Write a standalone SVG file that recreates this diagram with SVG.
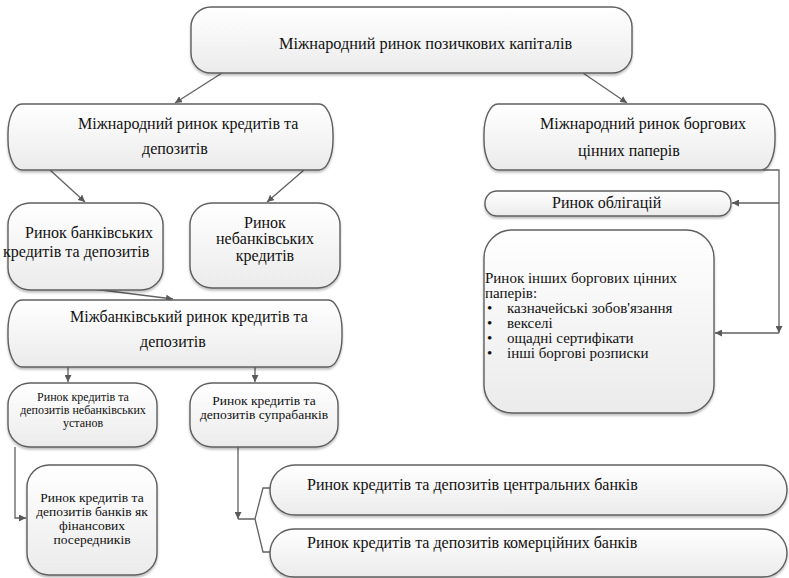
<svg xmlns="http://www.w3.org/2000/svg" width="789" height="578" viewBox="0 0 789 578">
<defs>
<linearGradient id="g" x1="0" y1="0" x2="0" y2="1">
<stop offset="0" stop-color="#ffffff"/>
<stop offset="1" stop-color="#ebebeb"/>
</linearGradient>
<filter id="sh" x="-5%" y="-5%" width="110%" height="120%">
<feDropShadow dx="0" dy="2" stdDeviation="1.2" flood-color="#000" flood-opacity="0.25"/>
</filter>
<marker id="ar" viewBox="0 0 10 10" refX="10" refY="5" markerWidth="7" markerHeight="7" markerUnits="userSpaceOnUse" orient="auto">
<path d="M0,0 L10,5 L0,10 z" fill="#595959"/>
</marker>
<style>
.b{fill:url(#g);stroke:#5f5f5f;stroke-width:1.4;filter:url(#sh)}
.t{font-family:'Liberation Serif',serif;font-size:16px;fill:#111}
.h{font-size:16.3px}
.p{font-size:15px}
.s{font-size:12px}
.m{font-size:13.5px}
.c{text-anchor:middle}
.l{fill:none;stroke:#616161;stroke-width:1.3}
</style>
</defs>
<g id="connectors">
<line class="l" x1="222" y1="73" x2="175" y2="103" marker-end="url(#ar)"/>
<line class="l" x1="583" y1="73" x2="627" y2="103" marker-end="url(#ar)"/>
<line class="l" x1="50" y1="170" x2="85" y2="202" marker-end="url(#ar)"/>
<line class="l" x1="304" y1="170" x2="267" y2="202" marker-end="url(#ar)"/>
<line class="l" x1="93" y1="289" x2="173" y2="299" marker-end="url(#ar)"/>
<line class="l" x1="68" y1="367" x2="68" y2="382" marker-end="url(#ar)"/>
<line class="l" x1="255" y1="367" x2="255" y2="382" marker-end="url(#ar)"/>
<path class="l" d="M15,447 V518 H26" marker-end="url(#ar)"/>
<path class="l" d="M238,447 V519" marker-end="url(#ar)"/>
<path class="l" d="M238,519 H255 L263,488 H272 M255,519 L263,552 H272"/>
<path class="l" d="M763,170 H779 V333" marker-end="url(#ar)"/>
<path class="l" d="M779,203 H732" marker-end="url(#ar)"/>
<path class="l" d="M779,333 H715" marker-end="url(#ar)"/>
</g>
<g id="n1">
<rect class="b" x="191" y="7" width="441" height="66" rx="20"/>
<text class="t h" x="279" y="49">Міжнародний ринок позичкових капіталів</text>
</g>
<g id="n2">
<rect class="b" x="8" y="104" width="325" height="66" rx="14" ry="30"/>
<text class="t" x="78" y="129">Міжнародний ринок кредитів та</text>
<text class="t" x="142" y="154">депозитів</text>
</g>
<g id="n3">
<rect class="b" x="484" y="104" width="291" height="66" rx="14" ry="30"/>
<text class="t" x="540" y="129">Міжнародний ринок боргових</text>
<text class="t" x="578" y="156">цінних паперів</text>
</g>
<g id="n4">
<rect class="b" x="485" y="191" width="246" height="25" rx="12"/>
<text class="t" x="552" y="208">Ринок облігацій</text>
</g>
<g id="n5">
<rect class="b" x="484" y="230" width="230" height="183" rx="28"/>
<text class="t p" x="485" y="283">Ринок інших боргових цінних</text>
<text class="t p" x="485" y="298">паперів:</text>
<text class="t p" x="487" y="313">•</text>
<text class="t p" x="507" y="313">казначейські зобов'язання</text>
<text class="t p" x="487" y="328">•</text>
<text class="t p" x="507" y="328">векселі</text>
<text class="t p" x="487" y="343">•</text>
<text class="t p" x="507" y="343">ощадні сертифікати</text>
<text class="t p" x="487" y="358">•</text>
<text class="t p" x="507" y="358">інші боргові розписки</text>
</g>
<g id="n6">
<rect class="b" x="8" y="203" width="155" height="87" rx="22"/>
<text class="t" x="25" y="238">Ринок банківських</text>
<text class="t" x="3" y="257">кредитів та депозитів</text>
</g>
<g id="n7">
<rect class="b" x="190" y="203" width="150" height="85" rx="22"/>
<text class="t c" x="265" y="228">Ринок</text>
<text class="t c" x="265" y="244">небанківських</text>
<text class="t c" x="265" y="261">кредитів</text>
</g>
<g id="n8">
<rect class="b" x="8" y="300" width="334" height="67" rx="14" ry="30"/>
<text class="t" x="70" y="322">Міжбанківський ринок кредитів та</text>
<text class="t" x="140" y="347">депозитів</text>
</g>
<g id="n9">
<rect class="b" x="8" y="383" width="149" height="64" rx="22"/>
<text class="t s c" x="83" y="401">Ринок кредитів та</text>
<text class="t s c" x="83" y="414">депозитів небанківських</text>
<text class="t s c" x="83" y="427">установ</text>
</g>
<g id="n10">
<rect class="b" x="190" y="383" width="148" height="64" rx="22"/>
<text class="t m c" x="264" y="405">Ринок кредитів та</text>
<text class="t m c" x="264" y="419">депозитів супрабанків</text>
</g>
<g id="n11">
<rect class="b" x="27" y="465" width="130" height="110" rx="22"/>
<text class="t m c" x="92" y="502">Ринок кредитів та</text>
<text class="t m c" x="92" y="516">депозитів банків як</text>
<text class="t m c" x="92" y="530">фінансових</text>
<text class="t m c" x="92" y="544">посередників</text>
</g>
<g id="n12">
<rect class="b" x="270" y="465" width="517" height="50" rx="25"/>
<text class="t" x="307" y="490">Ринок кредитів та депозитів центральних банків</text>
</g>
<g id="n13">
<rect class="b" x="270" y="529" width="517" height="48" rx="24"/>
<text class="t" x="307" y="548">Ринок кредитів та депозитів комерційних банків</text>
</g>
</svg>
